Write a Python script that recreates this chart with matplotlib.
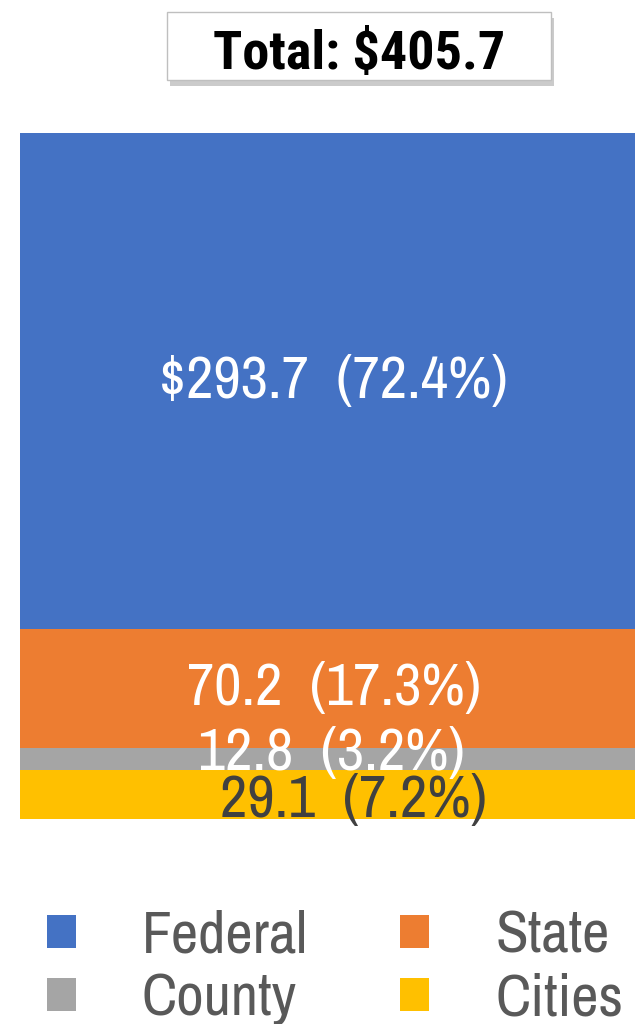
import matplotlib
matplotlib.use("Agg")
import matplotlib.pyplot as plt
import matplotlib.patheffects as pe
from matplotlib import font_manager
from matplotlib.patches import Patch, Rectangle

# Data (billions), stacked bottom to top
sources = ["Cities", "County", "State", "Federal"]
amounts = [29.1, 12.8, 70.2, 293.7]
shares = [7.2, 3.2, 17.3, 72.4]
colors = ["#FFC000", "#A5A5A5", "#ED7D31", "#4472C4"]
label_colors = ["#404040", "white", "white", "white"]
# (dx, dy) in points: Excel pushed the two thin labels apart
label_nudge = [(16, -4.5), (0, 4), (2, 0), (2, 0)]
total = 405.7
legend_order = ["Federal", "County", "State", "Cities"]

# the original uses Arial Narrow; pick the closest narrow face we have
names = {f.name for f in font_manager.fontManager.ttflist}
def first(cands):
    for c in cands:
        if c in names:
            return c
    return "Liberation Sans"
reg_font = first(["Liberation Sans Narrow", "Archivo Narrow", "Roboto Condensed", "Fira Sans Condensed"])
bold_font = first(["Liberation Sans Narrow", "Roboto Condensed", "Fira Sans Condensed", "IBM Plex Sans Condensed"])
plt.rcParams["font.family"] = [reg_font, "DejaVu Sans"]

W, H = 635, 1024
fig = plt.figure(figsize=(W / 100, H / 100), dpi=100)
renderer = fig.canvas.get_renderer()

def fit_size(s, target_px, **kw):
    t = fig.text(0, 0, s, fontsize=40, **kw)
    bb = t.get_window_extent(renderer)
    t.remove()
    return 40 * target_px / bb.width, bb.height * target_px / bb.width

label_fs, _ = fit_size("$293.7  (72.4%)", 348)
total_fs, _ = fit_size("Total: $405.7", 292, family=[bold_font, "DejaVu Sans"], fontweight="bold")
leg_fs, leg_h = fit_size("Federal", 166)

# axes: bar runs from x=20 off the right edge, y=133..819 px
ax = fig.add_axes([20 / W, 1 - 819 / H, 622 / W, (819 - 133) / H])
ax.set_xlim(-0.5, 0.5)
ax.set_ylim(0, total)
ax.axis("off")

bottom = 0
for i, (src, amt, pct, col) in enumerate(zip(sources, amounts, shares, colors)):
    bars = ax.bar(0, amt, width=1.0, bottom=bottom, color=col, linewidth=0, label=src)
    if i == 0:
        bars[0].set_path_effects([pe.SimplePatchShadow(offset=(1.5, -2), shadow_rgbFace="#777777", alpha=0.6),
                                  pe.Normal()])
    txt = f"{amt:.1f}  ({pct:.1f}%)"
    if src == "Federal":
        txt = "$" + txt
    ax.annotate(txt, (0, bottom + amt / 2), xytext=label_nudge[i], textcoords="offset points",
                ha="center", va="center", fontsize=label_fs, color=label_colors[i], zorder=5)
    bottom += amt

# total box with drop shadow
box = Rectangle((167 / W, 1 - 80 / H), 384 / W, 68 / H, transform=fig.transFigure,
                facecolor="white", edgecolor="#BFBFBF", linewidth=1.0,
                path_effects=[pe.SimplePatchShadow(offset=(2, -4), shadow_rgbFace="#999999", alpha=0.5),
                              pe.Normal()])
fig.add_artist(box)
fig.text(359 / W, 1 - 69 / H, f"Total: ${total:.1f}", ha="center", va="baseline",
         fontsize=total_fs, fontweight="bold", family=[bold_font, "DejaVu Sans"], color="black")

# legend: squares 29 px at x=47 and x=408, text at x=145, rows 64 px apart
fs_px = leg_fs * 100 / 72
col_of = dict(zip(sources, colors))
handles = [Patch(facecolor=col_of[s], edgecolor="none") for s in legend_order]
fig.legend(handles, legend_order, ncol=2, loc="center left", bbox_to_anchor=(47 / W, 1 - 968 / H),
           frameon=False, borderpad=0, borderaxespad=0, fontsize=leg_fs,
           handlelength=29 / fs_px, handleheight=29 / fs_px, handletextpad=66 / fs_px,
           columnspacing=92 / fs_px, labelspacing=max(64 - leg_h, 0) / fs_px, labelcolor="#595959")

fig.savefig("out.png", dpi=100)
